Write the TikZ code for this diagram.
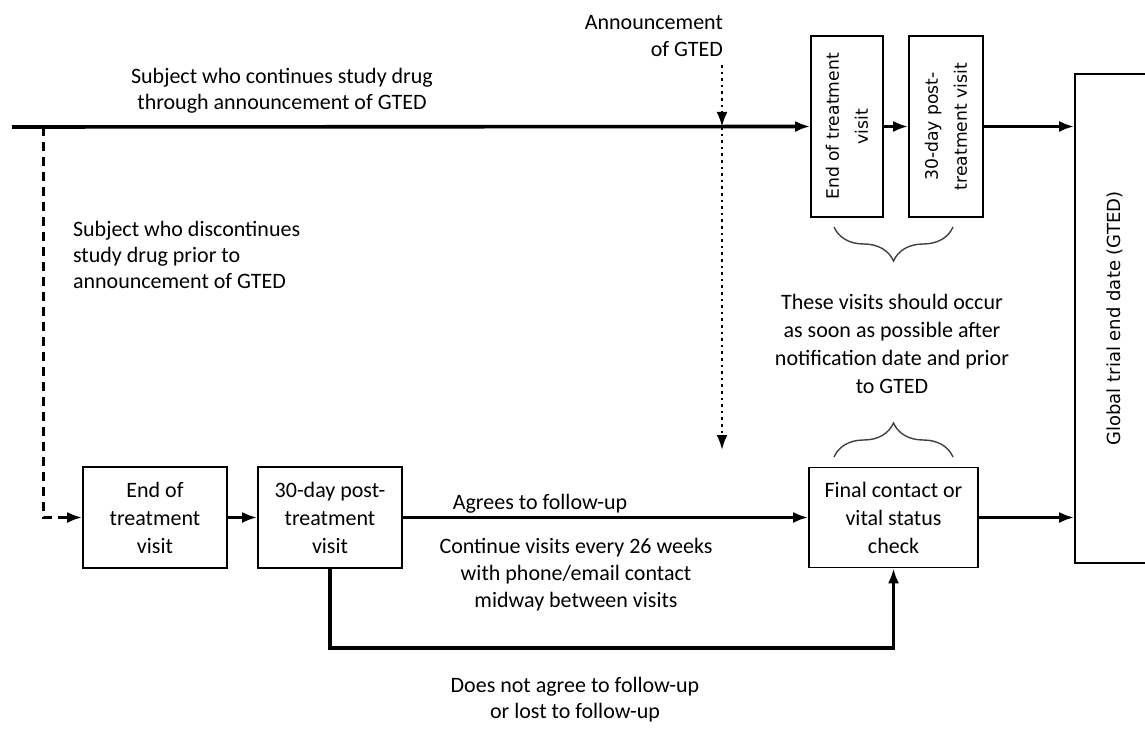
\documentclass[tikz,border=0pt]{standalone}
\usepackage{fontspec}
\setmainfont{Carlito}
\newfontfamily\visitfont{DejaVu Sans}
\usetikzlibrary{arrows.meta,decorations.pathreplacing}

\begin{document}
\begin{tikzpicture}[x=0.5pt,y=-0.5pt,
        visit/.style={draw=black, line width=0.8pt, align=center, inner sep=0pt,
            font=\fontsize{11}{14}\selectfont},
        sidevisit/.style={visit, rotate=90, font=\visitfont\fontsize{8.6}{14.5}\selectfont},
        flow/.style={line width=1.8pt, -{Latex[length=7.5pt,width=5.5pt]}},
        note/.style={align=center, font=\fontsize{11}{13}\selectfont},
        vbrace/.style={decorate, decoration={brace, amplitude=17pt}, line width=0.7pt, draw=black!75}]
        \useasboundingbox (0,0) rectangle (1145,732);
        % lower row of visits
        \node (eot) [visit, minimum width=72pt, minimum height=50.5pt] at (155,517.5) {End of\\treatment\\visit};
        \node (post) [visit, minimum width=72pt, minimum height=50.5pt] at (330,517.5) {30-day post-\\treatment\\visit};
        \node (final) [visit, minimum width=84.5pt, minimum height=50pt] at (893.5,517.5) {Final contact or\\vital status\\check};
        % upper row of visits, turned on their side
        \node (eottop) [sidevisit, minimum width=90.5pt, minimum height=36pt] at (847,126.5) {End of treatment\\visit};
        \node (posttop) [sidevisit, minimum width=90.5pt, minimum height=37pt] at (946,126.5) {30-day post-\\treatment visit};
        % the end date, its right side runs off the page
        \node (gted) [draw=black, line width=0.8pt, minimum width=40pt, minimum height=244.5pt] at (1115,318.5) {};
        \node (gtedtext) [rotate=90, font=\visitfont\fontsize{9}{11}\selectfont] at (gted.center) {Global trial end date (GTED)};
        \coordinate (start) at (12,127);
        \coordinate (split) at (43,127);
        \coordinate (annc) at (722,65);
        \coordinate (mark) at (722,127);
        \coordinate (annend) at (722,450);
        \coordinate (low) at (600,648);
        % subject who continues
        \draw[flow] (start) -- (eottop.north);
        \draw[flow] (eottop.south) -- (posttop.north);
        \draw[flow] (posttop.south) -- (gted.west |- posttop.south);
        % subject who stops early
        \draw[line width=1.5pt, dash pattern=on 4.5pt off 3pt, -{Latex[length=7.5pt,width=5.5pt]}] (split) |- (eot.west);
        \draw[flow] (eot.east) -- (post.west);
        \draw[flow] (post.east) -- (final.west);
        \draw[flow] (post.south) |- (low) -| (final.south);
        \draw[flow] (final.east) -- (gted.west |- final.east);
        % announcement, dotted
        \draw[line width=1.3pt, dotted, -{Latex[length=7.5pt,width=5.5pt]}] (annc) -- (mark);
        \draw[line width=1.3pt, dotted, -{Latex[length=7.5pt,width=5.5pt]}] (mark) -- (annend);
        % braces
        \draw[vbrace] (953,227) -- (834,227);
        \draw[vbrace] (834,457) -- (953,457);
        % labels
        \node (contlbl) [note] at (282,91) {Subject who continues study drug\\through announcement of GTED};
        \node (disclbl) [note, align=left, anchor=west] at (66,255) {Subject who discontinues\\study drug prior to\\announcement of GTED};
        \node (annlbl) [note, align=right, anchor=east, font=\fontsize{11}{13.5}\selectfont] at (730,36) {Announcement\\of GTED};
        \node (soonlbl) [note, font=\fontsize{11}{14}\selectfont] at (892,343.5) {These visits should occur\\as soon as possible after\\notification date and prior\\to GTED};
        \node (agreelbl) [note] at (540,504) {Agrees to follow-up};
        \node (everylbl) [note, font=\fontsize{11}{13.5}\selectfont] at (576,575) {Continue visits every 26 weeks\\with phone/email contact\\midway between visits};
        \node (lostlbl) [note] at (575,700) {Does not agree to follow-up\\or lost to follow-up};
    \end{tikzpicture}
\end{document}
